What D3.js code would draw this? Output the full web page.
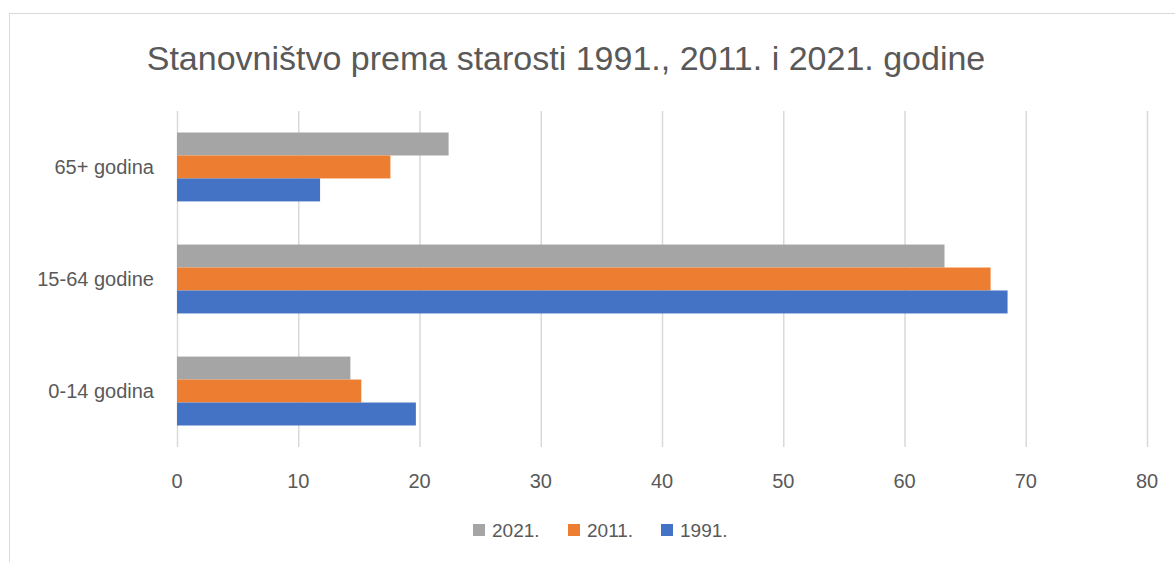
<!DOCTYPE html>
<html>
<head>
<meta charset="utf-8">
<script src="https://cdn.jsdelivr.net/npm/d3@7"></script>
<style>
    html, body { margin: 0; padding: 0; background: #fff; }
    svg text { font-family: "Liberation Sans", "DejaVu Sans", sans-serif; fill: #595959; }
</style>
</head>
<body>
<script>
(function () {
    "use strict";

    // data
    var categories = ["65+ godina", "15-64 godine", "0-14 godina"];
    var seriesNames = ["2021.", "2011.", "1991."];
    var values2021 = [22.4, 63.3, 14.3];
    var values2011 = [17.6, 67.1, 15.2];
    var values1991 = [11.8, 68.5, 19.7];
    var xTicks = [0, 10, 20, 30, 40, 50, 60, 70, 80];
    var colors = ["#a5a5a5", "#ed7d31", "#4472c4"];
    var title = "Stanovništvo prema starosti 1991., 2011. i 2021. godine";

    var series = [values2021, values2011, values1991];

    var width = 1175, height = 562;
    var margin = {top: 111, right: 28, bottom: 115, left: 177};

    var svg = d3.select("body").append("svg")
        .attr("width", width)
        .attr("height", height);

    // outer frame of the chart object
    svg.append("rect")
        .attr("x", 9.5)
        .attr("y", 13.5)
        .attr("width", width + 20)
        .attr("height", height + 20)
        .attr("fill", "none")
        .attr("stroke", "#d9d9d9")
        .attr("stroke-width", 1);

    svg.append("text")
        .attr("x", 566)
        .attr("y", 70)
        .attr("text-anchor", "middle")
        .style("font-size", "34px")
        .text(title);

    var x = d3.scaleLinear()
        .domain([0, 80])
        .range([margin.left, width - margin.right]);

    var y = d3.scaleBand()
        .domain(categories)
        .range([margin.top, height - margin.bottom])
        .paddingInner(0.385)
        .paddingOuter(0.192);

    var ySub = d3.scaleBand()
        .domain(seriesNames)
        .range([0, y.bandwidth()]);

    // gridlines
    var xAxis = svg.append("g")
        .attr("transform", "translate(0," + margin.top + ")")
        .call(d3.axisBottom(x)
            .tickValues(xTicks)
            .tickSize(height - margin.top - margin.bottom)
            .tickFormat(""));
    xAxis.select(".domain").remove();
    xAxis.selectAll(".tick line")
        .attr("stroke", "#d9d9d9")
        .attr("stroke-width", 1.5);

    // tick labels
    svg.append("g")
        .selectAll("text")
        .data(xTicks)
        .enter().append("text")
        .attr("x", function (d) { return x(d); })
        .attr("y", 488)
        .attr("text-anchor", "middle")
        .style("font-size", "20px")
        .text(function (d) { return d; });

    // bars
    var groups = svg.append("g")
        .selectAll("g")
        .data(categories)
        .enter().append("g")
        .attr("transform", function (d) { return "translate(0," + y(d) + ")"; });

    groups.selectAll("rect")
        .data(function (d, i) {
            return seriesNames.map(function (s, j) {
                return {name: s, value: series[j][i], color: colors[j]};
            });
        })
        .enter().append("rect")
        .attr("x", x(0))
        .attr("y", function (d) { return ySub(d.name); })
        .attr("width", function (d) { return x(d.value) - x(0); })
        .attr("height", ySub.bandwidth())
        .attr("fill", function (d) { return d.color; });

    // category labels
    svg.append("g")
        .selectAll("text")
        .data(categories)
        .enter().append("text")
        .attr("x", 154)
        .attr("y", function (d) { return y(d) + y.bandwidth() / 2 + 7; })
        .attr("text-anchor", "end")
        .style("font-size", "20px")
        .text(function (d) { return d; });

    // legend
    var legendX = [473, 568, 661];
    var legend = svg.append("g")
        .selectAll("g")
        .data(seriesNames)
        .enter().append("g")
        .attr("transform", function (d, i) { return "translate(" + legendX[i] + ",524)"; });

    legend.append("rect")
        .attr("width", 12)
        .attr("height", 12)
        .attr("fill", function (d, i) { return colors[i]; });

    legend.append("text")
        .attr("x", 19)
        .attr("y", 13)
        .style("font-size", "19px")
        .text(function (d) { return d; });
})();
</script>
</body>
</html>
